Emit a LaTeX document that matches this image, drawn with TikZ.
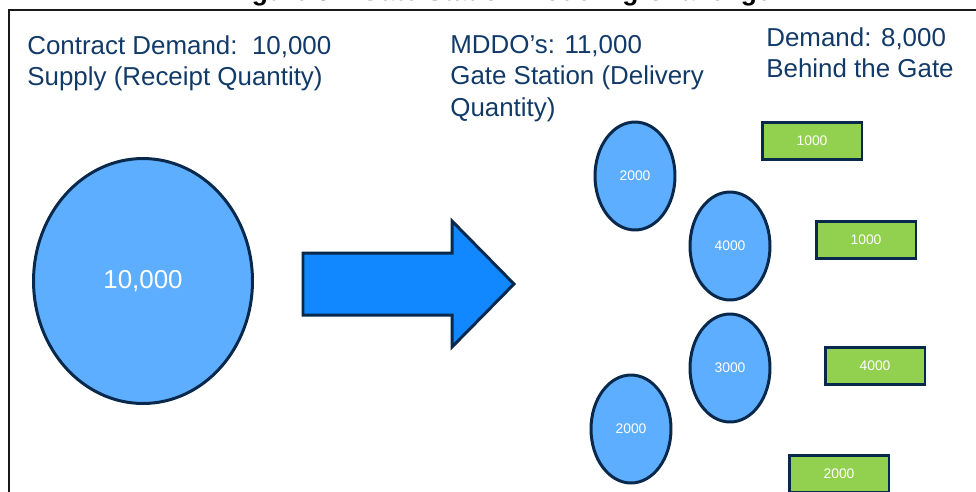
\documentclass[tikz,border=0pt]{standalone}
\usepackage{fontspec}
\setmainfont{Liberation Sans}
\usepackage{tikz}
\usetikzlibrary{shapes.geometric}
\definecolor{textNavy}{RGB}{18,58,104}
\definecolor{lineNavy}{RGB}{8,40,76}
\definecolor{supplyBlue}{RGB}{94,174,255}
\definecolor{flowBlue}{RGB}{17,136,255}
\definecolor{demandGreen}{RGB}{146,208,80}

\begin{document}
\begin{tikzpicture}[x=0.02cm, y=-0.02cm,
  heading/.style={anchor=north west, inner sep=0, align=left, text=textNavy,
    font=\fontsize{14.75}{17.8}\selectfont},
  station/.style={ellipse, draw=lineNavy, line width=1.7pt, fill=supplyBlue, inner sep=0,
    minimum width=1.6cm, minimum height=2.16cm, text=white, font=\fontsize{7.9}{9}\selectfont},
  loadbox/.style={rectangle, draw=lineNavy, line width=1.7pt, fill=demandGreen, inner sep=0,
    minimum width=2cm, minimum height=0.75cm, text=white, font=\fontsize{7.9}{9}\selectfont}]
  \useasboundingbox (0,0) rectangle (976,491);
  \clip (0,0) rectangle (976,491);

  % frame and cut-off caption
  \node[anchor=base, inner sep=0, font=\bfseries\fontsize{15}{18}\selectfont] (title) at (500,0.5)
    {Figure 3 -- Gate Station Modeling Challenge};
  \draw[line width=1.4pt, color=black!90] (9,495) -- (9,10) -- (980,10);

  % headings
  \node[heading] (cdText) at (27,35) {Contract Demand:\ \ 10,000\\Supply (Receipt Quantity)};
  \node[heading] (mddoText) at (450,35) {MDDO’s: 11,000\\Gate Station (Delivery\\Quantity)};
  \node[heading] (demandText) at (766,27) {Demand: 8,000\\Behind the Gate};

  % receipt side
  \node[station, minimum width=4.38cm, minimum height=4.9cm,
    font=\fontsize{14.75}{17.6}\selectfont] (supply) at (143,281) {10,000};
  \draw[draw=lineNavy, line width=1.7pt, fill=flowBlue, line join=miter]
    (303,253) -- (452,253) -- (452,221) -- (514,284) -- (452,347) -- (452,315) -- (303,315) -- cycle;

  % gate stations
  \node[station] (gateA) at (635,176) {2000};
  \node[station] (gateB) at (730,246) {4000};
  \node[station] (gateC) at (730,368) {3000};
  \node[station] (gateD) at (631,429) {2000};

  % behind the gate
  \node[loadbox] (loadA) at (812,141) {1000};
  \node[loadbox] (loadB) at (866,240) {1000};
  \node[loadbox] (loadC) at (875,366) {4000};
  \node[loadbox] (loadD) at (839,474) {2000};
\end{tikzpicture}
\end{document}
